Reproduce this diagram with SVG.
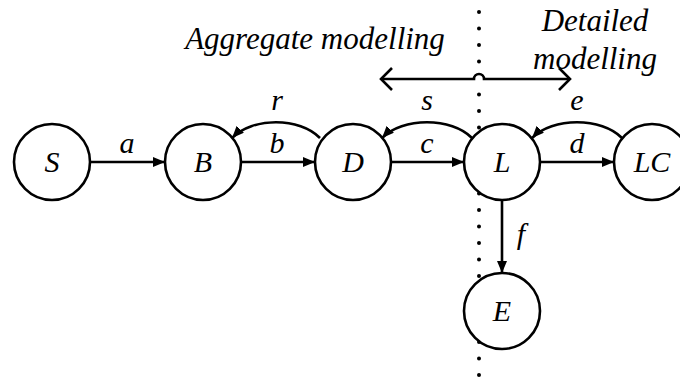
<svg xmlns="http://www.w3.org/2000/svg" width="680" height="380" viewBox="0 0 680 380">
  <style>
    .ring { fill: #ffffff; stroke: #000000; stroke-width: 2.6; }
    .edge { fill: none; stroke: #000000; stroke-width: 2.6; marker-end: url(#head); }
  </style>
  <defs>
    <marker id="head" viewBox="0 0 12 10" refX="12" refY="5" markerWidth="12" markerHeight="10" markerUnits="userSpaceOnUse" orient="auto">
      <path d="M0,0 L12,5 L0,10 z" fill="#000000"/>
    </marker>
  </defs>

  <rect width="680" height="380" fill="#ffffff"/>

  <!-- boundary between the two modelling levels -->
  <path d="M479,12 V62 M479,94.5 V376" fill="none" stroke="#000000" stroke-width="4" stroke-linecap="round" stroke-dasharray="0 16.5"/>

  <!-- region captions -->
  <text x="315" y="49" font-family="Liberation Serif" font-style="italic" font-size="31" text-anchor="middle">Aggregate modelling</text>
  <text x="595" y="31" font-family="Liberation Serif" font-style="italic" font-size="31" text-anchor="middle">Detailed</text>
  <text x="595" y="69" font-family="Liberation Serif" font-style="italic" font-size="31" text-anchor="middle">modelling</text>

  <!-- two-way span arrow, hopping over the boundary -->
  <g fill="none" stroke="#000000" stroke-width="2.6">
    <path d="M381,79 H474 A5,5 0 0 1 484,79 H570"/>
    <path d="M392,68 L381,79 L392,90 M559,68 L570,79 L559,90"/>
  </g>

  <g id="connectors">
    <path class="edge" d="M90,162 H165"/>
    <path class="edge" d="M241,162 H315"/>
    <path class="edge" d="M391,162 H464"/>
    <path class="edge" d="M540,162 H614"/>
    <path class="edge" d="M502,200 V273"/>
    <path class="edge" d="M320,138 C300,117 252,117 232,138"/>
    <path class="edge" d="M472,138 C452,117 402,117 382,138"/>
    <path class="edge" d="M622,138 C602,117 552,117 532,138"/>
    <text x="127" y="153" font-family="Liberation Serif" font-style="italic" font-size="30" text-anchor="middle">a</text>
    <text x="277" y="153" font-family="Liberation Serif" font-style="italic" font-size="30" text-anchor="middle">b</text>
    <text x="427" y="153" font-family="Liberation Serif" font-style="italic" font-size="30" text-anchor="middle">c</text>
    <text x="577" y="153" font-family="Liberation Serif" font-style="italic" font-size="30" text-anchor="middle">d</text>
    <text x="277" y="110" font-family="Liberation Serif" font-style="italic" font-size="30" text-anchor="middle">r</text>
    <text x="427" y="110" font-family="Liberation Serif" font-style="italic" font-size="30" text-anchor="middle">s</text>
    <text x="577" y="110" font-family="Liberation Serif" font-style="italic" font-size="30" text-anchor="middle">e</text>
    <text x="521" y="244" font-family="Liberation Serif" font-style="italic" font-size="30" text-anchor="middle">f</text>
  </g>

  <g id="node-S"><circle class="ring" cx="52" cy="162" r="38"/><text x="52" y="172" font-family="Liberation Serif" font-style="italic" font-size="30" text-anchor="middle">S</text></g>
  <g id="node-B"><circle class="ring" cx="203" cy="162" r="38"/><text x="203" y="172" font-family="Liberation Serif" font-style="italic" font-size="30" text-anchor="middle">B</text></g>
  <g id="node-D"><circle class="ring" cx="353" cy="162" r="38"/><text x="353" y="172" font-family="Liberation Serif" font-style="italic" font-size="30" text-anchor="middle">D</text></g>
  <g id="node-L"><circle class="ring" cx="502" cy="162" r="38"/><text x="502" y="172" font-family="Liberation Serif" font-style="italic" font-size="30" text-anchor="middle">L</text></g>
  <g id="node-LC"><circle class="ring" cx="652" cy="162" r="38"/><text x="652" y="172" font-family="Liberation Serif" font-style="italic" font-size="30" text-anchor="middle">LC</text></g>
  <g id="node-E"><circle class="ring" cx="502" cy="311" r="38"/><text x="502" y="321" font-family="Liberation Serif" font-style="italic" font-size="30" text-anchor="middle">E</text></g>
</svg>
